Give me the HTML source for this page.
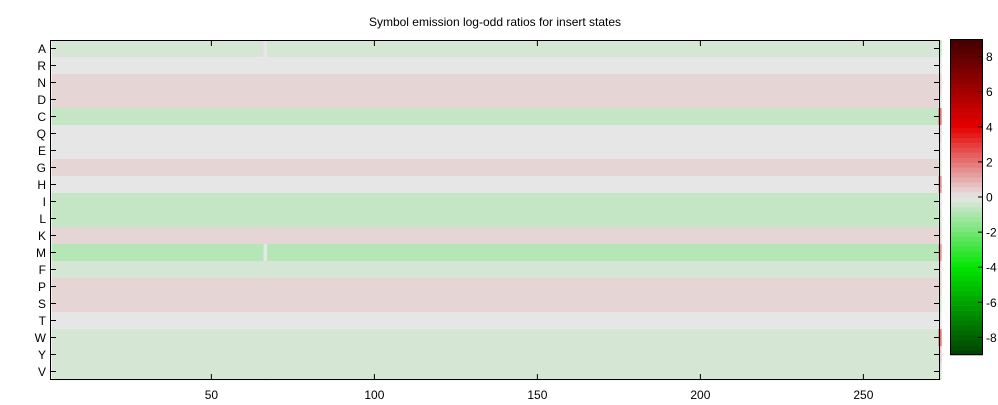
<!DOCTYPE html>
<html><head><meta charset="utf-8"><style>
body{margin:0;background:#fff;font-family:"Liberation Sans",sans-serif;}
svg text{font-family:"Liberation Sans",sans-serif;font-size:12px;fill:#000;}
</style></head><body>
<svg id="chart" width="998" height="400">
<text x="495" y="26" text-anchor="middle">Symbol emission log-odd ratios for insert states</text>
<g id="cells"></g>
<g id="axes"></g>
<g id="cbar"></g>
</svg>
<script>
const rowLabels=["A","R","N","D","C","Q","E","G","H","I","L","K","M","F","P","S","T","W","Y","V"];
const rowBase=[-0.3,0,0.3,0.3,-0.6,0,0,0.3,0,-0.6,-0.6,0.3,-0.85,-0.3,0.3,0.3,0,-0.3,-0.3,-0.3];
const lastCol=[-0.6,0,0.3,0.1,2,0.3,0,-0.3,1.5,0,-0.3,0.3,1.5,0.2,0.3,-0.3,0,2,0.5,-0.3];
const col66=[0,0,0.3,0.3,-0.6,0,0,0.3,0,-0.6,-0.6,0.3,0,-0.3,0.3,0.3,0,-0.3,-0.3,-0.3];
const nCols=273;
const xTicks=[50,100,150,200,250];
const cTicks=[-8,-6,-4,-2,0,2,4,6,8];
const NS="http://www.w3.org/2000/svg";
const L=50,R=940,T=40,B=380,cbX=950,cbW=33,cbT=39,cbB=355,vmin=-9,vmax=9;
const xs=c=>L+(c-0.5)*(R-L)/nCols;
const ys=r=>T+r*(B-T)/rowLabels.length;
const cy=v=>cbB-(v-vmin)*(cbB-cbT)/(vmax-vmin);
function lerp(a,b,t){return a.map((x,i)=>Math.round(x+(b[i]-x)*t));}
function color(v){
 const g=[230,230,230];let c;
 if(v>=0){c=v<=4?lerp(g,[230,0,0],v/4):lerp([230,0,0],[64,0,0],(v-4)/5);}
 else{const a=-v;c=a<=4?lerp(g,[0,230,0],a/4):lerp([0,230,0],[0,64,0],(a-4)/5);}
 return `rgb(${c.join(",")})`;
}
function mk(tag,attrs,parent){const e=document.createElementNS(NS,tag);for(const k in attrs)e.setAttribute(k,attrs[k]);parent.appendChild(e);return e;}
const cells=document.getElementById("cells"),axes=document.getElementById("axes"),cbar=document.getElementById("cbar");
const cw=(R-L)/nCols;
rowLabels.forEach((lab,r)=>{
 // merged run of base value
 let el=mk("rect",{x:xs(1),y:ys(r),width:xs(nCols)-xs(1),height:ys(r+1)-ys(r)+0.3,fill:color(rowBase[r])},cells);
 
 
 el=mk("rect",{x:xs(66),y:ys(r),width:cw+0.3,height:ys(r+1)-ys(r)+0.3,fill:color(col66[r])},cells);
 
 
 el=mk("rect",{x:xs(nCols),y:ys(r),width:cw,height:ys(r+1)-ys(r)+0.3,fill:color(lastCol[r])},cells);
 
 
 const yc=(ys(r)+ys(r+1))/2;
 mk("line",{x1:L,x2:L+6,y1:yc,y2:yc,stroke:"#000"},axes);
 mk("line",{x1:R-6,x2:R,y1:yc,y2:yc,stroke:"#000"},axes);
 const t=mk("text",{x:L-4,y:yc+4.5,"text-anchor":"end"},axes);t.textContent=lab;
 
 
});
xTicks.forEach(v=>{
 const x=xs(v);
 mk("line",{x1:x,x2:x,y1:B,y2:B-6,stroke:"#000"},axes);
 mk("line",{x1:x,x2:x,y1:T,y2:T+6,stroke:"#000"},axes);
 const t=mk("text",{x:x,y:B+19,"text-anchor":"middle"},axes);t.textContent=v;
 
 
});
mk("rect",{x:L+0.5,y:T+0.5,width:R-L-1,height:B-T-1,fill:"none",stroke:"#000"},axes);
// colorbar
const steps=64;
for(let i=0;i<steps;i++){
 const v0=vmin+i*(vmax-vmin)/steps,v1=vmin+(i+1)*(vmax-vmin)/steps;
 const el=mk("rect",{x:cbX,y:cy(v1),width:cbW,height:cy(v0)-cy(v1)+0.3,fill:color((v0+v1)/2)},cbar);
 
 
}
mk("rect",{x:cbX+0.5,y:cbT+0.5,width:cbW-1,height:cbB-cbT-1,fill:"none",stroke:"#000"},cbar);
cTicks.forEach(v=>{
 const y=cy(v);
 mk("line",{x1:cbX+cbW-5,x2:cbX+cbW,y1:y,y2:y,stroke:"#000"},cbar);
 const t=mk("text",{x:cbX+cbW+3,y:y+4.5},cbar);t.textContent=v;
 
 
});
</script>
</body></html>
